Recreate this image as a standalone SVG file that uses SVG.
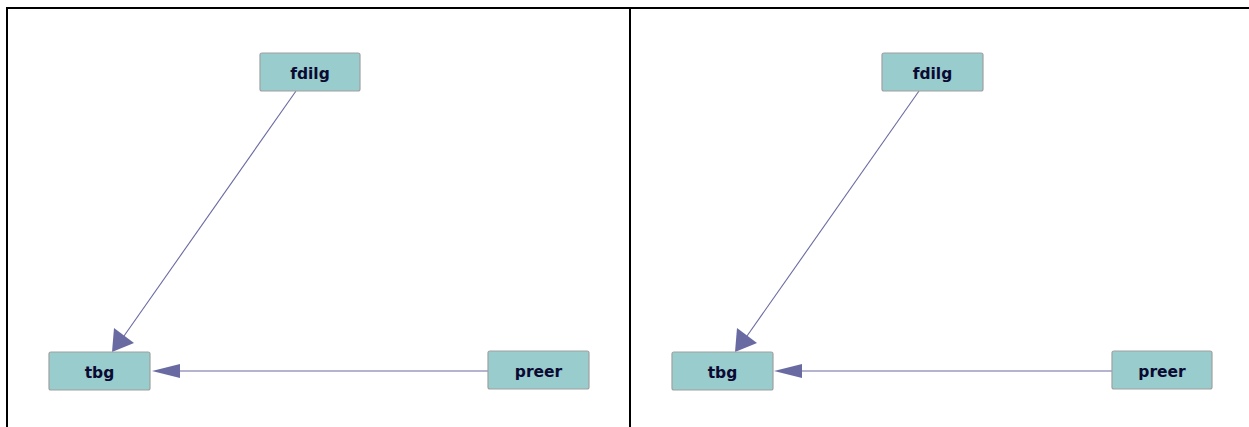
<svg xmlns="http://www.w3.org/2000/svg" width="1249" height="427" viewBox="0 0 1249 427">
<style>
.frame{stroke:#000;stroke-width:2;fill:none}
.node rect{fill:#99cccc;stroke:#a0a0a0;stroke-width:1.2}
.node text{font-family:"DejaVu Sans",Verdana,sans-serif;font-weight:bold;font-size:15.5px;fill:#0a0a33;text-anchor:middle}
.edge{stroke:#6a6aa2;stroke-width:1.1;fill:none}
.head{fill:#6a6aa2}
</style>
<rect width="1249" height="427" fill="#fff"/>
<g id="frame">
<line class="frame" x1="6" y1="8" x2="1249" y2="8"/>
<line class="frame" x1="7" y1="8" x2="7" y2="427"/>
<line class="frame" x1="630" y1="8" x2="630" y2="427"/>
</g>
<g id="connectors">
<line class="edge" x1="296" y1="91" x2="124" y2="336"/>
<polygon class="head" points="112,352 114,328 134,343"/>
<line class="edge" x1="488" y1="371" x2="178" y2="371"/>
<polygon class="head" points="152,371 180,364 180,378"/>
<line class="edge" x1="919" y1="91" x2="747" y2="336"/>
<polygon class="head" points="735,352 737,328 757,343"/>
<line class="edge" x1="1112" y1="371" x2="800" y2="371"/>
<polygon class="head" points="774,371 802,364 802,378"/>
</g>
<g id="node-fdilg-1" class="node"><rect x="260" y="53" width="100" height="38" rx="2"/><text x="310" y="79">fdilg</text></g>
<g id="node-tbg-1" class="node"><rect x="49" y="352" width="101" height="38" rx="2"/><text x="99.5" y="378">tbg</text></g>
<g id="node-preer-1" class="node"><rect x="488" y="351" width="101" height="38" rx="2"/><text x="538.5" y="377">preer</text></g>
<g id="node-fdilg-2" class="node"><rect x="882" y="53" width="101" height="38" rx="2"/><text x="932.5" y="79">fdilg</text></g>
<g id="node-tbg-2" class="node"><rect x="672" y="352" width="101" height="38" rx="2"/><text x="722.5" y="378">tbg</text></g>
<g id="node-preer-2" class="node"><rect x="1112" y="351" width="100" height="38" rx="2"/><text x="1162" y="377">preer</text></g>
</svg>
